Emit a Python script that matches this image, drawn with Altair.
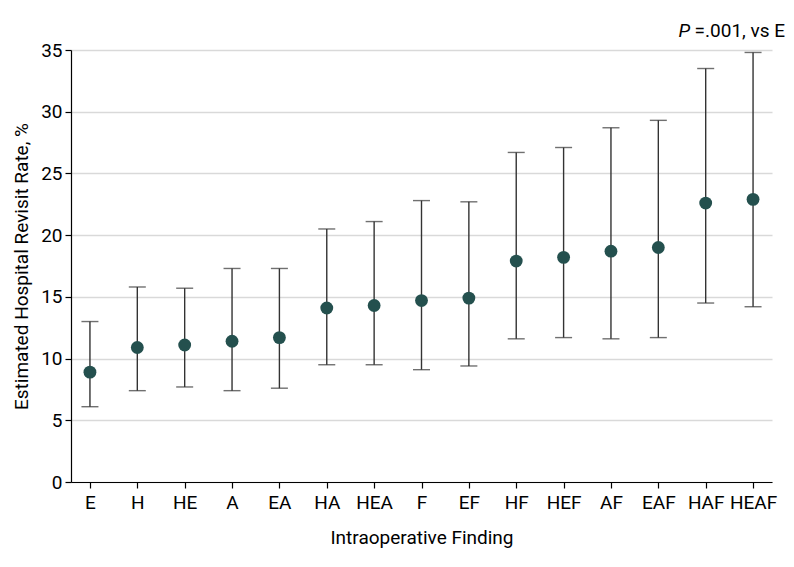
import altair as alt
import pandas as pd

categories = ["E", "H", "HE", "A", "EA", "HA", "HEA", "F", "EF", "HF", "HEF", "AF", "EAF", "HAF", "HEAF"]
estimate = [8.9, 10.9, 11.1, 11.4, 11.7, 14.1, 14.3, 14.7, 14.9, 17.9, 18.2, 18.7, 19.0, 22.6, 22.9]
lower = [6.1, 7.4, 7.7, 7.4, 7.6, 9.5, 9.5, 9.1, 9.4, 11.6, 11.7, 11.6, 11.7, 14.5, 14.2]
upper = [13.0, 15.8, 15.7, 17.3, 17.3, 20.5, 21.1, 22.8, 22.7, 26.7, 27.1, 28.7, 29.3, 33.5, 34.8]

df = pd.DataFrame({"cat": categories, "est": estimate, "lo": lower, "hi": upper})

FONT = "Roboto"
FS = 19
x = alt.X("cat:N", sort=categories, title="Intraoperative Finding",
          scale=alt.Scale(type="point", padding=0.4),
          axis=alt.Axis(labelAngle=0, grid=False, tickSize=6, labelPadding=5,
                        titlePadding=16, domainColor="#000", tickColor="#000"))
y_scale = alt.Scale(domain=[0, 35], nice=False)

base = alt.Chart(df)

rules = base.mark_rule(color="#333333", strokeWidth=1.4).encode(
    x=x,
    y=alt.Y("lo:Q", scale=y_scale, title="Estimated Hospital Revisit Rate, %",
            axis=alt.Axis(values=[0, 5, 10, 15, 20, 25, 30, 35], tickSize=6, labelPadding=3,
                          titlePadding=9, gridColor="#d9d9d9", gridWidth=1.5,
                          domainColor="#000", tickColor="#000")),
    y2="hi:Q",
)
cap_lo = base.mark_tick(color="#333333", size=17, thickness=1.4, orient="horizontal").encode(
    x=alt.X("cat:N", sort=categories), y=alt.Y("lo:Q", scale=y_scale))
cap_hi = base.mark_tick(color="#333333", size=17, thickness=1.4, orient="horizontal").encode(
    x=alt.X("cat:N", sort=categories), y=alt.Y("hi:Q", scale=y_scale))
pts = base.mark_circle(color="#24504e", opacity=1, size=165).encode(
    x=alt.X("cat:N", sort=categories), y=alt.Y("est:Q", scale=y_scale))

ann = pd.DataFrame({"cat": ["HEAF"], "v": [35]})
ann_p = alt.Chart(ann).mark_text(text="P", fontStyle="italic", font=FONT, fontSize=FS,
                                 align="right", baseline="alphabetic", dx=-63, dy=-13,
                                 color="#000").encode(
    x=alt.X("cat:N", sort=categories), y=alt.Y("v:Q", scale=y_scale))
ann_rest = alt.Chart(ann).mark_text(text="=.001, vs E", font=FONT, fontSize=FS,
                                    align="right", baseline="alphabetic", dx=32, dy=-13,
                                    color="#000").encode(
    x=alt.X("cat:N", sort=categories), y=alt.Y("v:Q", scale=y_scale))

chart = alt.layer(rules, cap_lo, cap_hi, pts, ann_p, ann_rest).properties(
    width=701, height=432,
    autosize=alt.AutoSizeParams(type="none"),
    padding={"left": 63, "top": 42, "right": 14, "bottom": 70},
).configure_view(stroke=None).configure_axis(
    labelFont=FONT, titleFont=FONT, labelFontSize=FS, titleFontSize=FS,
    labelColor="#000", titleColor="#000", titleFontWeight="normal", domainWidth=1.2, tickWidth=1.2,
).configure_axisX(grid=False)

chart.save("out.html", embed_options={"renderer": "svg", "actions": False})
